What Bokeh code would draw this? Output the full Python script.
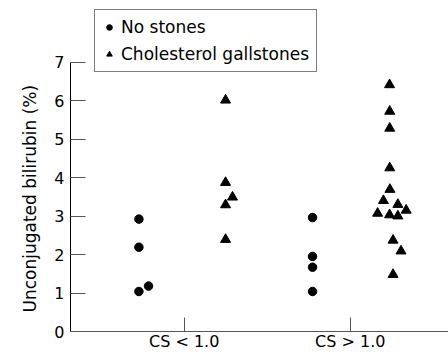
from bokeh.plotting import figure
from bokeh.models import FixedTicker, Legend, LegendItem, ColumnDataSource, Range1d, Title
from bokeh.embed import file_html
from bokeh.resources import INLINE

# ---- data ----
categories = ["CS < 1.0", "CS > 1.0"]
y_ticks = [0, 1, 2, 3, 4, 5, 6, 7]

# No stones
nostones_lt = [2.92, 2.19, 1.04, 1.18]
nostones_lt_dx = [-0.273, -0.273, -0.273, -0.215]
nostones_gt = [2.96, 1.95, 1.67, 1.04]
nostones_gt_dx = [-0.227, -0.227, -0.227, -0.227]

# Cholesterol gallstones
gall_lt = [6.01, 3.87, 3.49, 3.29, 2.39]
gall_lt_dx = [0.249, 0.249, 0.291, 0.249, 0.249]
gall_gt = [6.41, 5.72, 5.28, 4.25, 3.69, 3.40, 3.30, 3.15, 3.07, 3.03, 3.00, 2.37, 2.09, 1.48]
gall_gt_dx = [0.237, 0.238, 0.238, 0.238, 0.239, 0.200, 0.287, 0.337, 0.165, 0.237, 0.287, 0.258, 0.306, 0.258]

FONT = "DejaVu Sans"

def xs(center, dx):
    return [center + d for d in dx]

ns_src = ColumnDataSource(dict(
    x=xs(1, nostones_lt_dx) + xs(2, nostones_gt_dx),
    y=nostones_lt + nostones_gt))
gs_src = ColumnDataSource(dict(
    x=xs(1, gall_lt_dx) + xs(2, gall_gt_dx),
    y=gall_lt + gall_gt))

p = figure(width=448, height=353, output_backend="svg", toolbar_location=None,
           x_range=Range1d(0.315, 2.592), y_range=Range1d(0, 8.6),
           min_border_left=70, min_border_right=0, min_border_top=0, min_border_bottom=20)
p.outline_line_color = None
p.xgrid.grid_line_color = None
p.ygrid.grid_line_color = None
p.background_fill_color = "white"
p.border_fill_color = "white"

r1 = p.scatter("x", "y", source=ns_src, marker="circle", size=8.5, color="black")
r2 = p.scatter("x", "y", source=gs_src, marker="triangle", size=10, color="black")

# axes
p.yaxis.ticker = FixedTicker(ticks=y_ticks)
p.yaxis.bounds = (0, 7)
p.yaxis.major_label_text_font = FONT
p.yaxis.major_label_text_font_size = "16px"
p.yaxis.major_label_text_color = "black"
p.yaxis.major_label_standoff = 6
p.yaxis.major_tick_in = 15
p.yaxis.major_tick_out = 0
p.yaxis.minor_tick_line_color = None
p.yaxis.axis_line_color = "black"
p.yaxis.major_tick_line_color = "#555555"

# y-axis title, placed along the 0-7 part of the axis
ytitle = Title(text="Unconjugated bilirubin (%)", align="left", offset=19,
               text_font=FONT, text_font_size="17px", text_font_style="normal",
               text_color="black", standoff=24)
p.add_layout(ytitle, "left")

p.xaxis.ticker = FixedTicker(ticks=[1, 2])
p.xaxis.major_label_overrides = {1: categories[0], 2: categories[1]}
p.xaxis.major_label_text_font = FONT
p.xaxis.major_label_text_font_size = "16px"
p.xaxis.major_label_text_color = "black"
p.xaxis.major_label_standoff = 0
p.xaxis.major_tick_in = 14
p.xaxis.major_tick_out = 0
p.xaxis.minor_tick_line_color = None
p.xaxis.axis_line_color = "#555555"
p.xaxis.major_tick_line_color = "#555555"

legend = Legend(items=[LegendItem(label="No stones", renderers=[r1]),
                       LegendItem(label="Cholesterol gallstones", renderers=[r2])],
                location=(24, 259))
legend.label_text_font = FONT
legend.label_text_font_size = "17px"
legend.label_text_color = "black"
legend.border_line_color = "black"
legend.border_line_width = 1
legend.background_fill_color = "white"
legend.background_fill_alpha = 1
legend.padding = 7
legend.spacing = 7
legend.glyph_width = 14
legend.glyph_height = 20
legend.label_standoff = 5
legend.margin = 0
p.add_layout(legend, "center")

open("out.html", "w").write(file_html(p, INLINE))
